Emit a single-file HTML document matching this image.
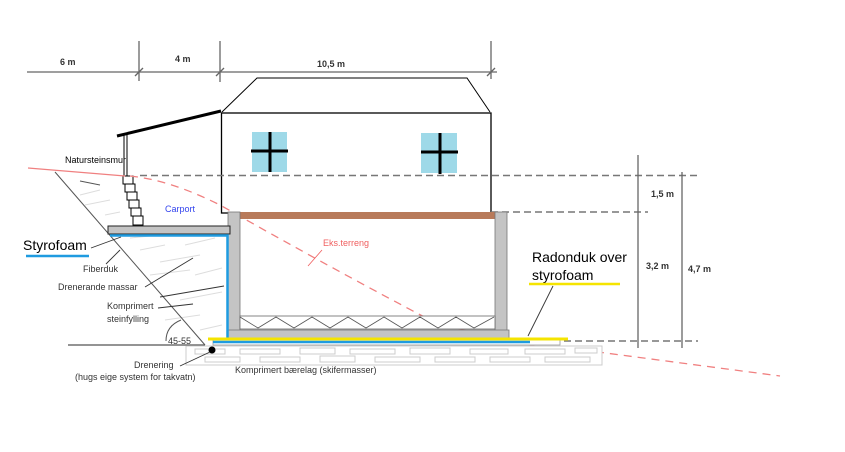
<!DOCTYPE html>
<html><head><meta charset="utf-8"><style>
html,body{margin:0;padding:0;background:#fff;}
svg{display:block;font-family:"Liberation Sans",sans-serif;}
</style></head><body>
<svg width="845" height="452" viewBox="0 0 845 452" xmlns="http://www.w3.org/2000/svg">
<rect width="845" height="452" fill="#fff"/>
<!-- top dimension -->
<g stroke="#666" stroke-width="1.3" fill="none">
<line x1="27" y1="72" x2="497" y2="72"/>
<line x1="139" y1="41" x2="139" y2="81"/>
<line x1="220" y1="41" x2="220" y2="82"/>
<line x1="491" y1="41" x2="491" y2="79"/>
<line x1="135" y1="76" x2="143" y2="68"/><line x1="216" y1="76" x2="224" y2="68"/><line x1="487" y1="76" x2="495" y2="68"/>
</g>
<g font-size="9" fill="#333" font-weight="bold">
<text x="60" y="65">6 m</text><text x="175" y="62">4 m</text><text x="317" y="67">10,5 m</text>
</g>
<!-- house -->
<polyline points="222,112 257,78 467,78 490,112" fill="none" stroke="#000" stroke-width="1"/>
<rect x="221.5" y="113" width="269.5" height="100" fill="#fff" stroke="#000" stroke-width="1.3"/>
<rect x="252" y="132" width="35" height="40" fill="#9ed9e8"/>
<rect x="421" y="133" width="36" height="40" fill="#9ed9e8"/>
<g stroke="#000" stroke-width="3"><line x1="270" y1="132" x2="270" y2="172"/><line x1="251" y1="151" x2="288" y2="151"/>
<line x1="440" y1="133" x2="440" y2="174"/><line x1="421" y1="152" x2="458" y2="152"/></g>
<!-- carport roof -->
<line x1="117" y1="136" x2="221" y2="111" stroke="#000" stroke-width="3"/>
<line x1="124" y1="135" x2="124" y2="176" stroke="#000" stroke-width="1"/>
<line x1="127" y1="135" x2="127" y2="176" stroke="#000" stroke-width="1"/>
<!-- ground lines -->
<g stroke="#777" stroke-width="1.5" stroke-dasharray="7,4" fill="none">
<line x1="140" y1="175.5" x2="697" y2="175.5"/>
<line x1="491" y1="212" x2="648" y2="212"/>
<line x1="509" y1="341" x2="698" y2="341"/>
</g>
<g stroke="#666" stroke-width="1.3">
<line x1="638" y1="155" x2="638" y2="348"/>
<line x1="682" y1="172" x2="682" y2="348"/>
</g>
<g font-size="9" fill="#333" font-weight="bold">
<text x="651" y="197">1,5 m</text><text x="646" y="269">3,2 m</text><text x="688" y="272">4,7 m</text>
</g>
<!-- fill hatch -->
<g stroke="#ddd" stroke-width="1">
<line x1="80" y1="195" x2="100" y2="190"/><line x1="85" y1="205" x2="110" y2="200"/><line x1="105" y1="215" x2="120" y2="212"/>
<line x1="140" y1="250" x2="165" y2="245"/><line x1="160" y1="262" x2="200" y2="255"/><line x1="185" y1="245" x2="215" y2="238"/>
<line x1="150" y1="275" x2="190" y2="270"/><line x1="195" y1="275" x2="222" y2="268"/><line x1="180" y1="300" x2="222" y2="292"/>
<line x1="165" y1="320" x2="200" y2="315"/><line x1="200" y1="330" x2="222" y2="325"/><line x1="130" y1="238" x2="150" y2="236"/>
</g>
<line x1="80" y1="181" x2="100" y2="185" stroke="#555" stroke-width="1"/>
<!-- slope -->
<line x1="55" y1="172" x2="205" y2="345" stroke="#555" stroke-width="1"/>
<line x1="68" y1="345" x2="205" y2="345" stroke="#555" stroke-width="1.2"/>
<path d="M166 341 Q166 326 181 320" fill="none" stroke="#555" stroke-width="1"/>
<!-- stones -->
<g fill="#fff" stroke="#000" stroke-width="1">
<rect x="123" y="176" width="10" height="8"/><rect x="125" y="184" width="10" height="8"/><rect x="127" y="192" width="10" height="8"/>
<rect x="129" y="200" width="10" height="8"/><rect x="131" y="208" width="10" height="8"/><rect x="133" y="216" width="10" height="9"/>
</g>
<!-- red terrain -->
<line x1="28" y1="168" x2="125" y2="176" stroke="#f08080" stroke-width="1.3"/>
<path d="M130 176 Q170 180 220 205 Q320 262 430 320 Q520 348 560 347 L780 376" fill="none" stroke="#f08080" stroke-width="1.3" stroke-dasharray="8,6"/>
<!-- structure -->
<rect x="240" y="212" width="257" height="7" fill="#b87a5a"/>
<rect x="228" y="212" width="12" height="120" fill="#c4c4c4" stroke="#777" stroke-width="0.8"/>
<rect x="495" y="212" width="12" height="120" fill="#c4c4c4" stroke="#777" stroke-width="0.8"/>
<rect x="108" y="226" width="122" height="8" fill="#c4c4c4" stroke="#222" stroke-width="1"/>
<rect x="228" y="330" width="281" height="8" fill="#c4c4c4" stroke="#777" stroke-width="0.8"/>
<rect x="240" y="316" width="255" height="13" fill="#fff" stroke="#666" stroke-width="0.8"/>
<polyline points="240,317 258,328 276,317 294,328 312,317 330,328 348,317 366,328 384,317 402,328 420,317 438,328 456,317 474,328 494,317" fill="none" stroke="#555" stroke-width="0.8"/>
<polyline points="110,235.5 227.5,235.5 227.5,343" fill="none" stroke="#1f9be0" stroke-width="2.5"/>
<rect x="213" y="340" width="347" height="5" fill="#fff" stroke="#999" stroke-width="0.8"/>
<line x1="213" y1="342" x2="530" y2="342" stroke="#1f9be0" stroke-width="2.5"/>
<line x1="208" y1="339" x2="568" y2="339" stroke="#f5e400" stroke-width="3"/>
<!-- base bricks -->
<g fill="#fff" stroke="#ccc" stroke-width="1">
<rect x="186" y="346" width="416" height="19"/>
<rect x="195" y="349" width="30" height="5"/><rect x="240" y="349" width="40" height="5"/><rect x="300" y="348" width="35" height="6"/><rect x="350" y="349" width="45" height="5"/><rect x="410" y="348" width="40" height="6"/><rect x="470" y="349" width="38" height="5"/><rect x="525" y="349" width="40" height="5"/><rect x="575" y="348" width="22" height="5"/>
<rect x="205" y="357" width="35" height="5"/><rect x="260" y="357" width="40" height="5"/><rect x="320" y="356" width="35" height="6"/><rect x="375" y="357" width="45" height="5"/><rect x="435" y="357" width="40" height="5"/><rect x="490" y="357" width="40" height="5"/><rect x="545" y="357" width="45" height="5"/>
</g>
<circle cx="212" cy="350" r="3.5" fill="#000"/>
<!-- leaders -->
<g stroke="#333" stroke-width="0.9">
<line x1="91" y1="248" x2="121" y2="237"/>
<line x1="106" y1="264" x2="120" y2="250"/>
<line x1="145" y1="287" x2="193" y2="258"/>
<line x1="160" y1="297" x2="224" y2="286"/>
<line x1="158" y1="308" x2="193" y2="304"/>
<line x1="180" y1="366" x2="210" y2="352"/>
<line x1="553" y1="286" x2="528" y2="336"/>
</g>
<!-- labels -->
<text x="65" y="163" font-size="9" fill="#000">Natursteinsmur</text>
<text x="165" y="212" font-size="9" fill="#3344ee">Carport</text>
<text x="23" y="250" font-size="14" fill="#000">Styrofoam</text>
<line x1="26" y1="256" x2="89" y2="256" stroke="#1f9be0" stroke-width="2.5"/>
<g font-size="9" fill="#333">
<text x="83" y="272">Fiberduk</text>
<text x="58" y="290">Drenerande massar</text>
<text x="107" y="309">Komprimert</text>
<text x="107" y="322">steinfylling</text>
<text x="168" y="344">45-55</text>
<text x="134" y="368">Drenering</text>
<text x="75" y="380">(hugs eige system for takvatn)</text>
<text x="235" y="373">Komprimert bærelag (skifermasser)</text>
</g>
<text x="323" y="246" font-size="9" fill="#f06060">Eks.terreng</text>
<line x1="322" y1="250" x2="308" y2="266" stroke="#f06060" stroke-width="0.8"/>
<text x="532" y="262" font-size="14" fill="#000">Radonduk over</text>
<text x="532" y="280" font-size="14" fill="#000">styrofoam</text>
<line x1="529" y1="284" x2="620" y2="284" stroke="#f5e400" stroke-width="2.5"/>
</svg>
</body></html>
